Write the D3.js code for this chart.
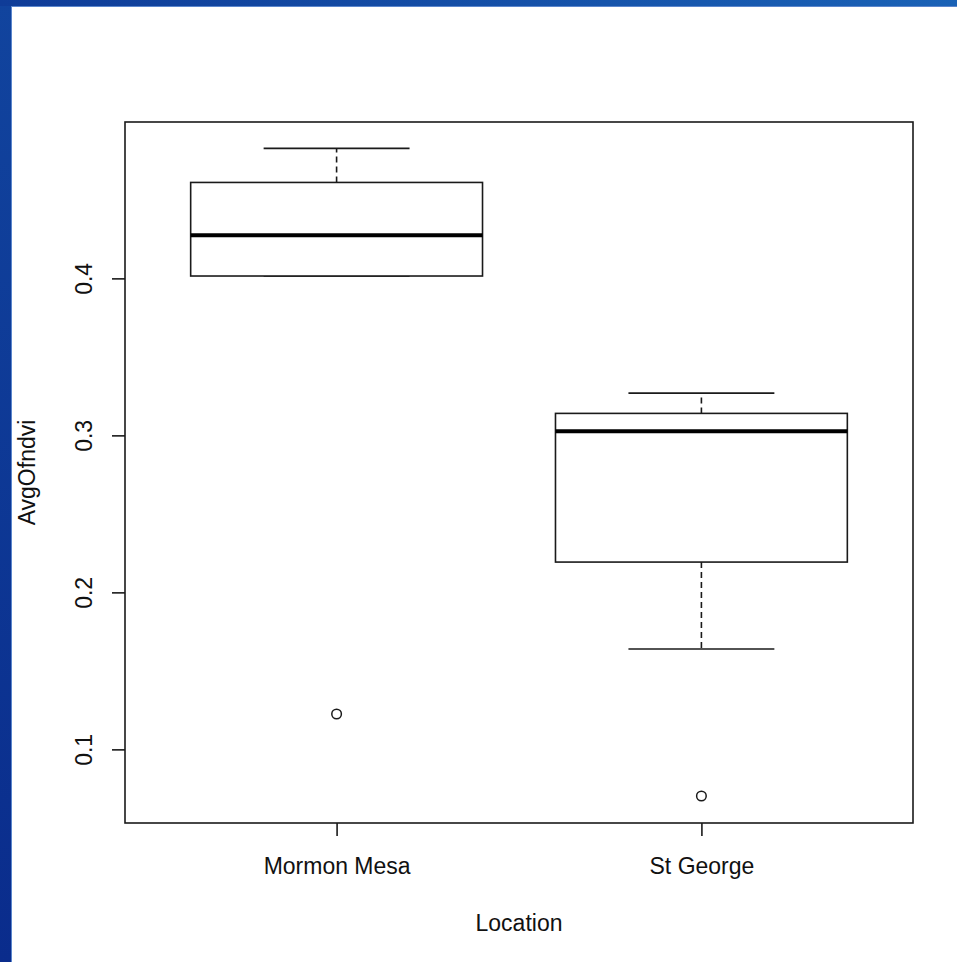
<!DOCTYPE html>
<html>
<head>
<meta charset="utf-8">
<script src="https://cdn.jsdelivr.net/npm/d3@7/dist/d3.min.js"></script>
<style>
  html, body { margin: 0; padding: 0; background: #fff; }
  svg { display: block; }
  text { font-family: "Liberation Sans", Arial, sans-serif; fill: #111; }
</style>
</head>
<body>
<svg id="chart" width="957" height="962"></svg>
<script>
// ---- data ----
const categories = ["Mormon Mesa", "St George"];
const whiskerLow  = [0.4015, 0.1639];
const q1          = [0.4015, 0.2193];
const medians     = [0.4274, 0.3027];
const q3          = [0.4611, 0.3140];
const whiskerHigh = [0.4828, 0.3269];
const outliers    = [[0.1225], [0.0703]];
const yTicks      = [0.1, 0.2, 0.3, 0.4];
const xLabel = "Location";
const yLabel = "AvgOfndvi";

// ---- layout ----
const svg = d3.select("#chart");
const W = 957, H = 962;
const plot = { left: 125, right: 913, top: 122, bottom: 823 };

// background frame (blue slide border)
const defs = svg.append("defs");
const gTop = defs.append("linearGradient").attr("id", "gTop").attr("x1", 0).attr("x2", 1).attr("y1", 0).attr("y2", 0);
gTop.append("stop").attr("offset", 0).attr("stop-color", "#0f3c98");
gTop.append("stop").attr("offset", 1).attr("stop-color", "#1a62b6");
const gLeft = defs.append("linearGradient").attr("id", "gLeft").attr("x1", 0).attr("x2", 0).attr("y1", 0).attr("y2", 1);
gLeft.append("stop").attr("offset", 0).attr("stop-color", "#11449e");
gLeft.append("stop").attr("offset", 1).attr("stop-color", "#0a2c8c");

svg.append("rect").attr("x", 0).attr("y", 0).attr("width", W).attr("height", H).attr("fill", "#fff");
svg.append("rect").attr("x", 0).attr("y", 0).attr("width", 11).attr("height", H).attr("fill", "url(#gLeft)");
svg.append("rect").attr("x", 0).attr("y", 0).attr("width", W).attr("height", 6).attr("fill", "url(#gTop)");
svg.append("line").attr("x1", 11).attr("x2", W).attr("y1", 6.5).attr("y2", 6.5).attr("stroke", "#5b86cc").attr("stroke-width", 1);
svg.append("line").attr("x1", 11.5).attr("x2", 11.5).attr("y1", 6).attr("y2", H).attr("stroke", "#5b86cc").attr("stroke-width", 1);

// ---- scales ----
const x = d3.scaleLinear().domain([0.42, 2.58]).range([plot.left, plot.right]);
const y = d3.scaleLinear().domain([0.0531, 0.4996]).range([plot.bottom, plot.top]);

const ink = "#1a1a1a";

// plot frame
svg.append("rect")
  .attr("x", plot.left).attr("y", plot.top)
  .attr("width", plot.right - plot.left).attr("height", plot.bottom - plot.top)
  .attr("fill", "none").attr("stroke", ink).attr("stroke-width", 1.6);

// y axis
const yAxis = d3.axisLeft(y).tickValues(yTicks).tickSize(13).tickFormat(d3.format(".1f"));
const gy = svg.append("g").attr("transform", `translate(${plot.left},0)`).call(yAxis);
gy.select(".domain").remove();
gy.selectAll(".tick line").attr("stroke", ink).attr("stroke-width", 1.6);
gy.selectAll(".tick text")
  .attr("x", null).attr("dy", null)
  .attr("transform", "translate(-33,0) rotate(-90)")
  .attr("text-anchor", "middle")
  .style("font-family", "'Liberation Sans', Arial, sans-serif")
  .style("font-size", "23px").attr("fill", "#111");

// x axis
const xAxis = d3.axisBottom(x).tickValues([1, 2]).tickSize(13).tickFormat((d) => categories[d - 1]);
const gx = svg.append("g").attr("transform", `translate(0,${plot.bottom})`).call(xAxis);
gx.select(".domain").remove();
gx.selectAll(".tick line").attr("stroke", ink).attr("stroke-width", 1.6);
gx.selectAll(".tick text")
  .attr("y", null).attr("dy", null)
  .attr("transform", "translate(0,51) scale(1,1.08)")
  .attr("text-anchor", "middle")
  .style("font-family", "'Liberation Sans', Arial, sans-serif")
  .style("font-size", "23px").attr("fill", "#111");

// axis titles
svg.append("text")
  .attr("transform", `translate(${(plot.left + plot.right) / 2},931) scale(1,1.08)`)
  .attr("text-anchor", "middle").style("font-size", "23px").text(xLabel);
svg.append("text")
  .attr("transform", `translate(35,${(plot.top + plot.bottom) / 2}) rotate(-90)`)
  .attr("text-anchor", "middle").style("font-size", "23px").text(yLabel);

// ---- boxes ----
const boxHalf = 0.4, capHalf = 0.2;
categories.forEach((c, i) => {
  const cx = i + 1;
  const g = svg.append("g");
  // whiskers (dashed)
  g.append("line")
    .attr("x1", x(cx)).attr("x2", x(cx)).attr("y1", y(q3[i])).attr("y2", y(whiskerHigh[i]))
    .attr("stroke", ink).attr("stroke-width", 1.6).attr("stroke-dasharray", "6,4");
  g.append("line")
    .attr("x1", x(cx)).attr("x2", x(cx)).attr("y1", y(q1[i])).attr("y2", y(whiskerLow[i]))
    .attr("stroke", ink).attr("stroke-width", 1.6).attr("stroke-dasharray", "6,4");
  // caps
  [whiskerHigh[i], whiskerLow[i]].forEach((v) => {
    g.append("line")
      .attr("x1", x(cx - capHalf)).attr("x2", x(cx + capHalf)).attr("y1", y(v)).attr("y2", y(v))
      .attr("stroke", ink).attr("stroke-width", 1.6);
  });
  // box
  g.append("rect")
    .attr("x", x(cx - boxHalf)).attr("y", y(q3[i]))
    .attr("width", x(cx + boxHalf) - x(cx - boxHalf)).attr("height", y(q1[i]) - y(q3[i]))
    .attr("fill", "#fff").attr("stroke", ink).attr("stroke-width", 1.6);
  // median
  g.append("line")
    .attr("x1", x(cx - boxHalf)).attr("x2", x(cx + boxHalf)).attr("y1", y(medians[i])).attr("y2", y(medians[i]))
    .attr("stroke", "#000").attr("stroke-width", 4);
  // outliers
  g.selectAll("circle").data(outliers[i]).enter().append("circle")
    .attr("cx", x(cx)).attr("cy", (d) => y(d)).attr("r", 4.8)
    .attr("fill", "none").attr("stroke", ink).attr("stroke-width", 1.5);
});
</script>
</body>
</html>
